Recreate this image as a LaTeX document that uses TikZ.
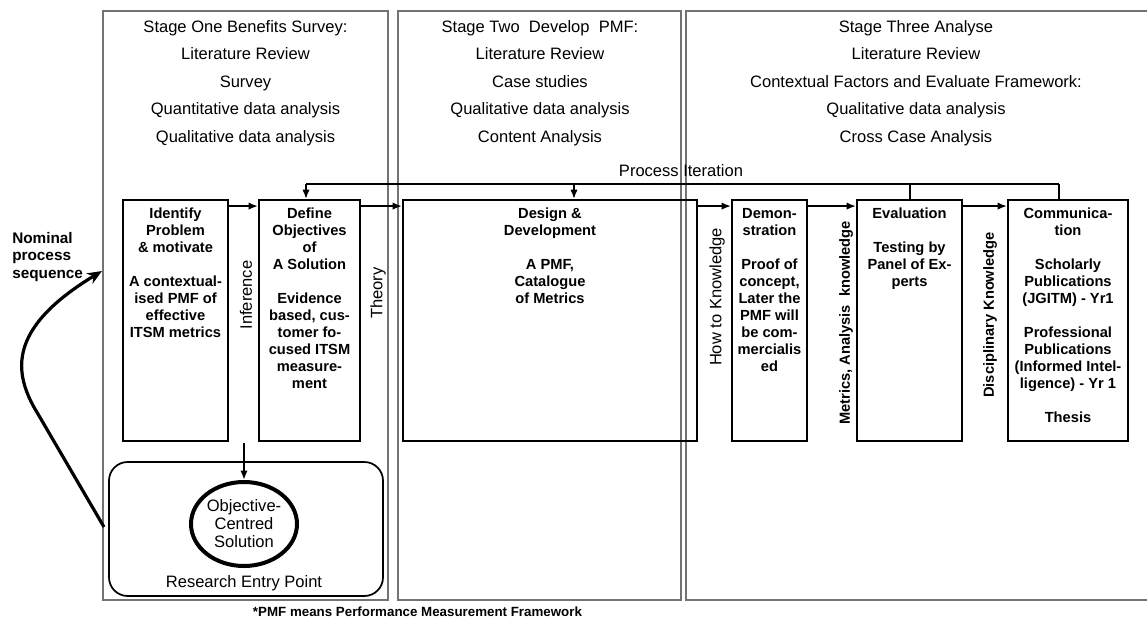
\documentclass[tikz,border=0pt]{standalone}
\usepackage{fontspec}
\setmainfont{Liberation Sans}
\usetikzlibrary{arrows.meta,shapes.geometric,positioning}
\newcommand{\pxu}{0.75pt}
\newcommand{\regfont}{\fontsize{12.4}{14}\selectfont}
\newcommand{\boldfont}{\bfseries\fontsize{11}{12.75}\selectfont}
\tikzset{
    stagebox/.style={draw=black!55, line width=1.2pt},
    stagetext/.style={anchor=north, align=center, inner sep=0pt, font=\fontsize{12.4}{20.6}\selectfont},
    stepbox/.style={draw, line width=1.4pt, minimum height=241*\pxu, inner sep=0pt},
    boxtext/.style={align=center, inner sep=0pt, font=\boldfont},
    sidelabel/.style={rotate=90, inner sep=0pt, font=\regfont},
    note/.style={inner sep=0pt, font=\regfont},
    flow/.style={-{Latex[length=7pt,width=5.5pt]}, line width=1.6pt},
    loopline/.style={line width=1.5pt},
    entrybox/.style={draw, line width=1.3pt, rounded corners=14pt, inner sep=0pt},
    goal/.style={draw, ellipse, line width=3pt, inner sep=0pt},
    seqarrow/.style={-{Stealth[length=11pt,width=9pt]}, line width=2.4pt}
}
\begin{document}
\begin{tikzpicture}[x=0.75pt,y=-0.75pt]
    \useasboundingbox (0,0) rectangle (1147,622);

    % the three stages
    \draw[stagebox] (103,11) rectangle (388,600);
    \draw[stagebox] (398,11) rectangle (681,600);
    \draw[stagebox] (1150,11) -- (686,11) -- (686,600) -- (1150,600);

    \node[stagetext] (stageA) at (245.5,20) {Stage One Benefits Survey:\\Literature Review\\Survey\\Quantitative data analysis\\Qualitative data analysis};
    \node[stagetext] (stageB) at (540,20) {Stage Two~ Develop~ PMF:\\Literature Review\\Case studies\\Qualitative data analysis\\Content Analysis};
    \node[stagetext] (stageC) at (916,20) {Stage Three Analyse\\Literature Review\\Contextual Factors and Evaluate Framework:\\Qualitative data analysis\\Cross Case Analysis};

    % process steps
    \node[stepbox, minimum width=105*\pxu] (ident) at (175.5,320.5) {};
    \node[stepbox, minimum width=101*\pxu] (define) at (309.5,320.5) {};
    \node[stepbox, minimum width=294*\pxu] (design) at (550,320.5) {};
    \node[stepbox, minimum width=75*\pxu] (demo) at (769.5,320.5) {};
    \node[stepbox, minimum width=105*\pxu] (eval) at (909.5,320.5) {};
    \node[stepbox, minimum width=120*\pxu] (comm) at (1068,320.5) {};

    \node[boxtext, below=6.5pt of ident.north] (identT) {Identify\\Problem\\\& motivate\\~\\A contextual-\\ised PMF of\\effective\\ITSM metrics};
    \node[boxtext, below=6.5pt of define.north] (defineT) {Define\\Objectives\\of\\A Solution\\~\\Evidence\\based, cus-\\tomer fo-\\cused ITSM\\measure-\\ment};
    \node[boxtext, below=6.5pt of design.north] (designT) {Design \&\\Development\\~\\A PMF,\\Catalogue\\of Metrics};
    \node[boxtext, below=6.5pt of demo.north] (demoT) {Demon-\\stration\\~\\Proof of\\concept,\\Later the\\PMF will\\be com-\\mercialis\\ed};
    \node[boxtext, below=6.5pt of eval.north] (evalT) {Evaluation\\~\\Testing by\\Panel of Ex-\\perts};
    \node[boxtext, below=6.5pt of comm.north] (commT) {Communica-\\tion\\~\\Scholarly\\Publications\\(JGITM) - Yr1\\~\\Professional\\Publications\\(Informed Intel-\\ligence) - Yr 1\\~\\Thesis};

    % knowledge labels
    \node[sidelabel] (inferL) at (246,295) {Inference};
    \node[sidelabel] (theoryL) at (378,293) {Theory};
    \node[sidelabel] (howL) at (717,297) {How to Knowledge};
    \node[sidelabel, font=\boldfont] (metricL) at (846,323) {Metrics, Analysis~ knowledge};
    \node[sidelabel, font=\boldfont] (discL) at (990,315) {Disciplinary Knowledge};

    \draw[flow] ([yshift=-5.25pt]ident.north east) -- ([yshift=-5.25pt]define.north west);
    \draw[flow] ([yshift=-5.25pt]define.north east) -- ([yshift=-5.25pt]design.north west);
    \draw[flow] ([yshift=-5.25pt]design.north east) -- ([yshift=-5.25pt]demo.north west);
    \draw[flow] ([yshift=-5.25pt]demo.north east) -- ([yshift=-5.25pt]eval.north west);
    \draw[flow] ([yshift=-5.25pt]eval.north east) -- ([yshift=-5.25pt]comm.north west);

    % process iteration
    \node[note] (iterT) at (681,171) {Process Iteration};
    \coordinate (iterL) at (306,184);
    \coordinate (iterD) at (574,184);
    \coordinate (iterR) at (1059,184);
    \draw[loopline] (iterL) -- (iterR);
    \draw[flow, line width=1.5pt] (iterL) -- (iterL |- define.north);
    \draw[flow, line width=1.5pt] (iterD) -- (iterD |- design.north);
    \draw[loopline] (eval.north) -- (eval.north |- iterL);
    \draw[loopline] (iterR) -- (iterR |- comm.north);

    % research entry point
    \node[entrybox, minimum width=274*\pxu, minimum height=134*\pxu] (entry) at (246,529) {};
    \node[note] (entryT) at (244,583) {Research Entry Point};
    \node[goal, minimum width=106*\pxu, minimum height=84*\pxu] (goal) at (244,524) {};
    \node[note, align=center, font=\fontsize{12.4}{13.5}\selectfont] (goalT) at (goal.center) {Objective-\\Centred\\Solution};
    \coordinate (inferB) at (244,443);
    \draw[flow, line width=1.5pt] (inferB) -- (goal.north);

    % nominal process sequence
    \node[note, anchor=north west, align=left, font=\bfseries\fontsize{11.5}{13.2}\selectfont] (nominal) at (12,232) {Nominal\\process\\sequence};
    \coordinate (seqA) at (104,527);
    \coordinate (seqB) at (102,271);
    \draw[seqarrow] (seqA) -- (38,414) .. controls (12,372) and (8,328) .. (seqB);

    \node[note, font=\bfseries\fontsize{10}{12}\selectfont] (pmf) at (417.5,612) {*PMF means Performance Measurement Framework};
\end{tikzpicture}
\end{document}
